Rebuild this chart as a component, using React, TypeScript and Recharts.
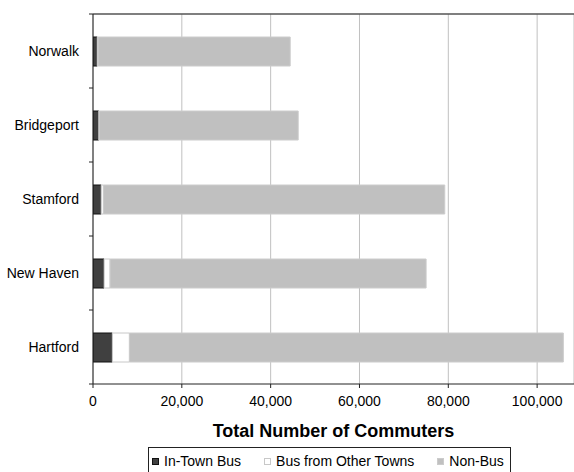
import {
  BarChart,
  Bar,
  XAxis,
  YAxis,
  CartesianGrid,
  Legend,
} from "recharts";

const towns = ["Norwalk", "Bridgeport", "Stamford", "New Haven", "Hartford"];
const inTownBus = [950, 1300, 1850, 2500, 4350];
const otherTownsBus = [200, 150, 500, 1350, 3850];
const nonBus = [43250, 44750, 76850, 71150, 97700];
const xTicks = [0, 20000, 40000, 60000, 80000, 100000];

const data = towns.map((town, i) => ({
  town,
  inTown: inTownBus[i],
  otherTowns: otherTownsBus[i],
  nonBus: nonBus[i],
}));

const series = [
  { key: "inTown", name: "In-Town Bus", fill: "#404040", stroke: "#111111" },
  { key: "otherTowns", name: "Bus from Other Towns", fill: "#ffffff", stroke: "#c8c8c8" },
  { key: "nonBus", name: "Non-Bus", fill: "#c0c0c0", stroke: "#cccccc" },
];

const FONT = "'Liberation Sans', Arial, sans-serif";
const Y_TICK_MARGIN = 14;

// category label plus a small tick mark at each band boundary
function TownTick(props: any) {
  const { x, y, payload, index, visibleTicksCount } = props;
  const half = payload?.offset ?? 0;
  const axisX = x + Y_TICK_MARGIN;
  return (
    <g>
      <line x1={axisX - 4} x2={axisX} y1={y - half} y2={y - half} stroke="#222" />
      {index === visibleTicksCount - 1 && (
        <line x1={axisX - 4} x2={axisX} y1={y + half} y2={y + half} stroke="#222" />
      )}
      <text x={x} y={y} dy="0.355em" textAnchor="end" fontSize={14} fill="#000" fontFamily={FONT}>
        {payload.value}
      </text>
    </g>
  );
}

function LegendBox() {
  return (
    <div
      style={{
        display: "flex",
        alignItems: "center",
        height: 28,
        boxSizing: "border-box",
        border: "1px solid #222",
        padding: "0 6px 0 3px",
        fontFamily: FONT,
        fontSize: 14,
        color: "#000",
        gap: 23,
        whiteSpace: "nowrap",
      }}
    >
      {series.map((s) => (
        <span key={s.key} style={{ display: "flex", alignItems: "center" }}>
          <span
            style={{
              display: "inline-block",
              width: 5,
              height: 5,
              background: s.fill,
              border: `1px solid ${s.stroke}`,
              marginRight: 5,
            }}
          />
          {s.name}
        </span>
      ))}
    </div>
  );
}

export default function App() {
  return (
    <div style={{ position: "absolute", top: 0, left: 0, fontFamily: FONT }}>
      <BarChart
        width={574}
        height={476}
        data={data}
        layout="vertical"
        margin={{ top: 14, right: 0, bottom: 0, left: 0 }}
        barSize={29}
      >
        <CartesianGrid horizontal={false} stroke="#c0c0c0" />
        <CartesianGrid
          vertical={false}
          horizontalCoordinatesGenerator={({ offset }: any) => [offset.top]}
          stroke="#555"
          strokeWidth={1.5}
        />
        <XAxis
          type="number"
          domain={[0, 108300]}
          ticks={xTicks}
          allowDataOverflow
          tickFormatter={(v: number) => v.toLocaleString("en-US")}
          tick={{ fontSize: 14, fill: "#000", fontFamily: FONT }}
          tickSize={4}
          tickMargin={8}
          axisLine={{ stroke: "#222" }}
          tickLine={{ stroke: "#222" }}
          height={64}
          label={{
            value: "Total Number of Commuters",
            position: "insideBottom",
            offset: 11,
            style: { fontSize: 18, fontWeight: "bold", fill: "#000", fontFamily: FONT },
          }}
        />
        <YAxis
          type="category"
          dataKey="town"
          width={93}
          tickLine={false}
          tickSize={0}
          tickMargin={Y_TICK_MARGIN}
          axisLine={{ stroke: "#222" }}
          tick={<TownTick />}
        />
        <Legend
          verticalAlign="bottom"
          content={<LegendBox />}
          wrapperStyle={{ left: 148, width: "auto", top: 447 }}
        />
        {series.map((s) => (
          <Bar
            key={s.key}
            dataKey={s.key}
            name={s.name}
            stackId="a"
            fill={s.fill}
            stroke={s.stroke}
            strokeWidth={1}
            isAnimationActive={false}
          />
        ))}
      </BarChart>
    </div>
  );
}
